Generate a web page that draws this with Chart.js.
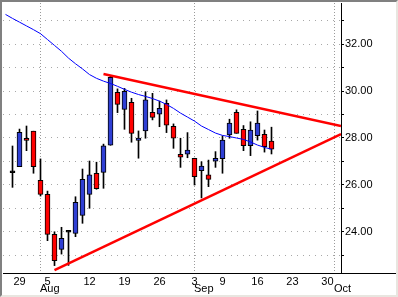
<!DOCTYPE html>
<html>
<head>
<meta charset="utf-8">
<script src="https://cdn.jsdelivr.net/npm/chart.js@4/dist/chart.umd.min.js"></script>
<style>
  body { margin: 0; background: #d4d0c8; }
  #wrap {
    width: 394px; height: 293px;
    border-style: solid; border-width: 2px;
    border-color: #808080 #e8e6e0 #e8e6e0 #808080;
    background: #fff;
  }
  canvas { display: block; }
</style>
</head>
<body>
<div id="wrap"><canvas id="c" width="394" height="293"></canvas></div>
<script>
// trading days, index 0 = Jul 25 2002 (only the average shows there)
const opens  = [null,26.52,26.78,27.99,28.29,26.20,25.60,23.90,23.26,23.99,23.94,24.71,25.60,26.50,26.54,27.69,29.94,29.22,29.52,27.90,28.30,29.09,29.01,29.48,28.50,27.31,27.31,27.14,26.61,26.43,27.01,27.12,28.13,29.09,28.37,27.67,28.10,28.16,27.87];
const highs  = [null,27.66,28.38,28.51,28.29,27.11,25.74,24.01,24.20,24.02,25.50,26.68,27.02,26.97,27.74,30.64,30.09,30.11,29.69,28.30,29.97,29.90,29.57,29.62,28.60,27.99,28.23,27.14,26.99,27.06,27.42,28.09,28.80,29.20,28.53,28.69,29.15,28.34,28.46];
const lows   = [null,25.90,26.78,27.46,26.50,25.53,23.63,22.57,23.06,22.58,23.80,24.37,25.01,25.82,25.86,27.69,29.08,28.37,27.82,27.14,27.99,28.77,28.48,28.23,27.56,26.75,27.16,26.00,25.45,25.93,26.75,26.50,27.99,28.20,27.46,27.25,27.91,27.40,27.32];
const closes = [null,26.52,28.24,27.90,26.78,25.60,23.90,22.78,23.73,23.99,25.26,26.24,26.43,25.84,27.67,30.58,29.43,29.99,28.20,28.00,29.62,28.88,29.26,28.55,27.99,27.18,27.49,26.35,26.81,26.24,27.14,27.91,28.63,28.20,27.67,28.34,28.63,27.63,27.52];
const movAvg = [33.26,33.09,32.93,32.77,32.61,32.44,32.19,31.94,31.69,31.40,31.16,30.94,30.70,30.54,30.42,30.32,30.20,30.07,29.95,29.85,29.77,29.68,29.57,29.43,29.26,29.06,28.89,28.72,28.51,28.36,28.21,28.11,28.06,28.00,27.94,27.83,27.70,27.60,27.52];

// trend lines (day index, price)
const upperX = [14, 47.93], upperY = [30.72, 28.51];
const lowerX = [7, 47.93],  lowerY = [22.38, 28.17];

// axis labels
const weekPos    = [2, 6, 12, 17, 22, 27, 31, 36, 41, 46];
const weekLabels = ['29', '5', '12', '19', '26', '3', '9', '16', '23', '30'];
const monthPos    = [5, 27, 47];
const monthLabels = ['Aug', 'Sep', 'Oct'];
const yTicks = [23, 24, 25, 26, 27, 28, 29, 30, 31, 32, 33];

const X_MIN = -0.357, X_MAX = 47.93, Y_MIN = 22.255, Y_MAX = 33.745;
const FONT = { family: "'Liberation Sans', Arial, sans-serif", size: 11 };

const days = opens.map((o, i) => i).filter(i => opens[i] != null);
const upCol = '#2f3fd4', downCol = '#ff0000';

const noPad = s => { s.paddingLeft = 0; s.paddingRight = 0; s.paddingTop = 0; s.paddingBottom = 0; };

const decor = {
  id: 'decor',
  beforeDatasetsDraw(chart) {
    const { ctx, chartArea, scales: { x } } = chart;
    ctx.save();
    ctx.strokeStyle = '#9a9a9a';
    ctx.lineWidth = 1;
    ctx.setLineDash([1, 2]);
    monthPos.forEach(p => {
      const px = Math.round(x.getPixelForValue(p)) + 0.5;
      ctx.beginPath();
      ctx.moveTo(px, chartArea.top);
      ctx.lineTo(px, chartArea.bottom);
      ctx.stroke();
    });
    ctx.restore();
  },
  afterDraw(chart) {
    const { ctx, chartArea, scales: { x } } = chart;
    ctx.save();
    // axis line runs on under the price labels
    ctx.strokeStyle = '#000';
    ctx.beginPath();
    ctx.moveTo(chartArea.right, Math.round(chartArea.bottom) + 0.5);
    ctx.lineTo(chart.width, Math.round(chartArea.bottom) + 0.5);
    ctx.stroke();
    ctx.fillStyle = '#000';
    ctx.font = FONT.size + 'px ' + FONT.family;
    ctx.textAlign = 'left';
    ctx.textBaseline = 'alphabetic';
    monthPos.forEach((p, i) => {
      ctx.fillText(monthLabels[i], Math.round(x.getPixelForValue(p)), 290);
    });
    ctx.restore();
  }
};

new Chart(document.getElementById('c'), {
  type: 'bar',
  data: {
    datasets: [
      {
        label: 'wick',
        data: days.map(i => ({ x: i, y: [lows[i], highs[i]] })),
        backgroundColor: '#000',
        barThickness: 1,
        grouped: false,
        order: 5
      },
      {
        label: 'body',
        data: days.map(i => ({ x: i, y: [opens[i], closes[i]] })),
        backgroundColor: ctx => {
          const i = ctx.raw ? ctx.raw.x : 0;
          if (closes[i] > opens[i]) return upCol;
          if (closes[i] < opens[i]) return downCol;
          return '#000';
        },
        borderColor: '#000',
        borderWidth: 1,
        borderSkipped: false,
        barThickness: 5,
        minBarLength: 2,
        grouped: false,
        order: 4
      },
      {
        type: 'line',
        label: 'avg',
        data: movAvg.map((v, i) => ({ x: i, y: v })),
        borderColor: '#0000ff',
        borderWidth: 1,
        pointRadius: 0,
        tension: 0,
        order: 3
      },
      {
        type: 'line',
        label: 'upper',
        data: upperX.map((v, i) => ({ x: v, y: upperY[i] })),
        borderColor: '#ff0000',
        borderWidth: 2.5,
        pointRadius: 0,
        order: 1
      },
      {
        type: 'line',
        label: 'lower',
        data: lowerX.map((v, i) => ({ x: v, y: lowerY[i] })),
        borderColor: '#ff0000',
        borderWidth: 2.5,
        pointRadius: 0,
        order: 1
      }
    ]
  },
  options: {
    responsive: false,
    animation: false,
    devicePixelRatio: 1,
    layout: { padding: { left: 1, top: 1, right: 0, bottom: 0 } },
    plugins: { legend: { display: false }, tooltip: { enabled: false } },
    scales: {
      x: {
        type: 'linear',
        position: 'bottom',
        min: X_MIN,
        max: X_MAX,
        offset: false,
        afterBuildTicks: s => { s.ticks = weekPos.map(v => ({ value: v })); },
        afterFit: s => { s.height = 22; noPad(s); },
        grid: { display: false, drawTicks: false },
        border: { display: true, color: '#000', width: 1 },
        ticks: {
          autoSkip: false,
          maxRotation: 0,
          padding: 2,
          color: '#000',
          font: FONT,
          callback: (v, i) => weekLabels[i]
        }
      },
      y: {
        position: 'right',
        min: Y_MIN,
        max: Y_MAX,
        afterBuildTicks: s => { s.ticks = yTicks.map(v => ({ value: v })); },
        afterFit: s => { s.width = 55; noPad(s); },
        grid: {
          color: '#a8a8a8',
          tickColor: '#000',
          tickLength: 3,
          tickBorderDash: [],
          drawTicks: true
        },
        border: { display: true, color: '#000', width: 1, dash: [1, 5] },
        ticks: {
          padding: 1,
          color: '#000',
          font: FONT,
          callback: v => (Math.round(v) % 2 === 0 ? v.toFixed(2) : '')
        }
      }
    }
  },
  plugins: [decor]
});
</script>
</body>
</html>
